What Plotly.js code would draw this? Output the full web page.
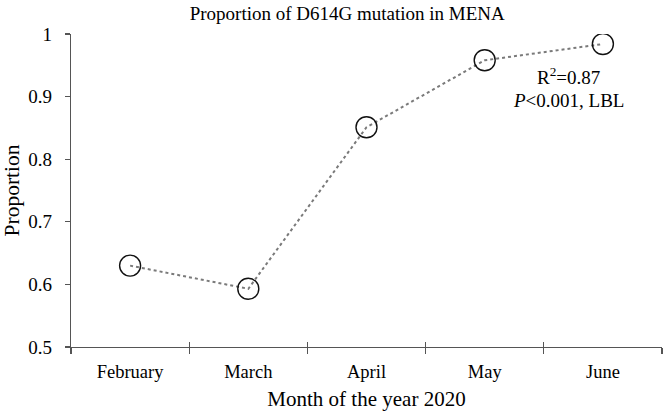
<!DOCTYPE html>
<html>
<head>
<meta charset="utf-8">
<script src="https://cdn.plot.ly/plotly-3.0.1.min.js"></script>
<style>html,body{margin:0;padding:0;background:#fff;}#chart{width:664px;height:416px;}</style>
</head>
<body>
<div id="chart"></div>
<script>
var months = ["February", "March", "April", "May", "June"];
var proportion = [0.63, 0.593, 0.851, 0.958, 0.984];
var yTicks = [0.5, 0.6, 0.7, 0.8, 0.9, 1];
var yTickText = ["0.5", "0.6", "0.7", "0.8", "0.9", "1"];
var statLines = ["R<sup>2</sup>=0.87", "<i>P</i><0.001, LBL"];

var serif = "Liberation Serif, Times New Roman, serif";

var traces = [
  {
    x: months, y: proportion, type: "scatter", mode: "lines+markers",
    line: {color: "#7a7a7a", width: 2, dash: "dot"},
    marker: {symbol: "circle-open", size: 21, color: "#111", line: {width: 1.4, color: "#111"}},
    hoverinfo: "skip", showlegend: false
  },
  {
    x: months, y: proportion, type: "scatter", mode: "markers", xaxis: "x2",
    marker: {opacity: 0}, hoverinfo: "skip", showlegend: false
  }
];

var layout = {
  width: 664, height: 416,
  margin: {l: 71, r: 2, t: 34, b: 69},
  paper_bgcolor: "#fff", plot_bgcolor: "#fff",
  font: {family: serif, color: "#000", size: 19},
  title: {text: "Proportion of D614G mutation in MENA", font: {family: serif, size: 19, color: "#000"}, x: 0.523, xanchor: "center", yref: "container", y: 0.968, yanchor: "middle"},
  showlegend: false,
  xaxis: {
    type: "category", categoryorder: "array", categoryarray: months,
    range: [-0.5, 4.5], showgrid: false, zeroline: false,
    showline: true, linecolor: "#555", linewidth: 1.3,
    ticks: "outside", tickson: "boundaries", ticklen: 6, tickcolor: "#555", tickwidth: 1.3,
    ticklabelstandoff: 7,
    tickfont: {family: serif, size: 18.5, color: "#000"},
    title: {text: "Month of the year 2020", font: {family: serif, size: 21, color: "#000"}, standoff: 10}
  },
  xaxis2: {
    type: "category", categoryorder: "array", categoryarray: months,
    overlaying: "x", anchor: "y", side: "bottom", matches: "x",
    range: [-0.5, 4.5], showgrid: false, zeroline: false, showline: false,
    ticks: "inside", tickson: "boundaries", ticklen: 5, tickcolor: "#555", tickwidth: 1.3,
    showticklabels: false
  },
  yaxis: {
    range: [0.5, 1], tickvals: yTicks, ticktext: yTickText,
    showgrid: false, zeroline: false,
    showline: true, linecolor: "#555", linewidth: 1.3,
    ticks: "outside", ticklen: 5, tickcolor: "#555", tickwidth: 1.3,
    ticklabelstandoff: 9,
    tickfont: {family: serif, size: 19, color: "#000"},
    title: {text: "Proportion", font: {family: serif, size: 21.5, color: "#000"}, standoff: 3}
  },
  annotations: [
    {xref: "x", yref: "y", x: 3.71, y: 0.933, text: statLines[0], showarrow: false, xanchor: "center", yanchor: "middle", font: {family: serif, size: 19, color: "#000"}},
    {xref: "x", yref: "y", x: 3.71, y: 0.893, text: statLines[1], showarrow: false, xanchor: "center", yanchor: "middle", font: {family: serif, size: 19, color: "#000"}}
  ]
};

Plotly.newPlot("chart", traces, layout, {displayModeBar: false, staticPlot: true});
</script>
</body>
</html>
